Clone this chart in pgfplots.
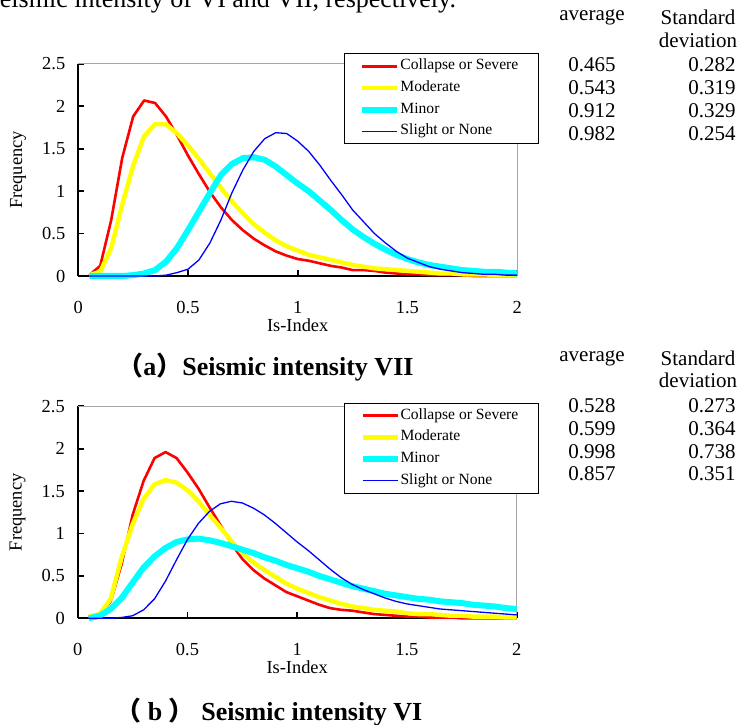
\documentclass[border=0pt]{standalone}
\usepackage{fontspec}
\setmainfont{Liberation Serif}
\newfontfamily\cjk{Noto Sans CJK SC}
\usepackage{pgfplots}
\pgfplotsset{compat=1.18}
\usepackage{pgfplotstable}

\definecolor{cRed}{RGB}{255,0,0}
\definecolor{cYel}{RGB}{255,255,0}
\definecolor{cCya}{RGB}{0,255,255}
\definecolor{cBlu}{RGB}{0,0,255}

% Seismic intensity VII
\pgfplotstableread{
x    r    y    c    b
0.05 0.01 0.01 0.00 0.00
0.10 0.12 0.05 0.00 0.00
0.15 0.66 0.33 0.00 0.00
0.20 1.39 0.84 0.00 0.00
0.25 1.88 1.30 0.01 0.00
0.30 2.07 1.65 0.03 0.00
0.35 2.04 1.79 0.07 0.00
0.40 1.88 1.79 0.17 0.01
0.45 1.66 1.68 0.33 0.04
0.50 1.42 1.54 0.54 0.08
0.55 1.20 1.38 0.76 0.19
0.60 0.99 1.21 0.98 0.39
0.65 0.81 1.04 1.19 0.66
0.70 0.66 0.88 1.32 0.98
0.75 0.54 0.74 1.39 1.25
0.80 0.44 0.61 1.40 1.47
0.85 0.36 0.51 1.37 1.62
0.90 0.29 0.42 1.29 1.69
0.95 0.24 0.35 1.19 1.68
1.00 0.20 0.30 1.09 1.59
1.05 0.18 0.25 1.00 1.47
1.10 0.15 0.22 0.89 1.31
1.15 0.12 0.19 0.78 1.13
1.20 0.10 0.16 0.66 0.96
1.25 0.07 0.13 0.55 0.78
1.30 0.07 0.11 0.46 0.64
1.35 0.06 0.09 0.38 0.50
1.40 0.04 0.08 0.31 0.39
1.45 0.03 0.07 0.25 0.29
1.50 0.02 0.06 0.20 0.21
1.55 0.02 0.05 0.16 0.16
1.60 0.01 0.04 0.13 0.11
1.65 0.01 0.03 0.11 0.08
1.70 0.01 0.03 0.09 0.06
1.75 0.01 0.02 0.07 0.04
1.80 0.00 0.02 0.06 0.03
1.85 0.00 0.02 0.05 0.02
1.90 0.00 0.01 0.05 0.02
1.95 0.00 0.01 0.04 0.01
2.00 0.00 0.01 0.03 0.01
}\tabA

% Seismic intensity VI
\pgfplotstableread{
x    r    y    c    b
0.05 0.01 0.02 0.00 0.00
0.10 0.04 0.05 0.03 0.00
0.15 0.20 0.23 0.11 0.00
0.20 0.64 0.72 0.24 0.01
0.25 1.22 1.11 0.42 0.03
0.30 1.62 1.41 0.60 0.10
0.35 1.89 1.58 0.73 0.23
0.40 1.96 1.63 0.83 0.44
0.45 1.89 1.60 0.90 0.69
0.50 1.72 1.51 0.93 0.93
0.55 1.53 1.38 0.94 1.12
0.60 1.31 1.22 0.92 1.26
0.65 1.10 1.07 0.89 1.35
0.70 0.88 0.91 0.85 1.38
0.75 0.70 0.77 0.81 1.36
0.80 0.57 0.66 0.77 1.30
0.85 0.47 0.57 0.72 1.22
0.90 0.39 0.49 0.68 1.12
0.95 0.31 0.41 0.63 1.01
1.00 0.26 0.35 0.59 0.90
1.05 0.21 0.30 0.55 0.80
1.10 0.16 0.25 0.50 0.69
1.15 0.12 0.21 0.46 0.58
1.20 0.10 0.17 0.42 0.48
1.25 0.09 0.14 0.38 0.40
1.30 0.07 0.12 0.35 0.34
1.35 0.05 0.10 0.32 0.29
1.40 0.04 0.09 0.29 0.24
1.45 0.03 0.08 0.27 0.20
1.50 0.02 0.06 0.25 0.17
1.55 0.02 0.05 0.23 0.15
1.60 0.01 0.05 0.22 0.13
1.65 0.01 0.04 0.20 0.11
1.70 0.01 0.03 0.19 0.10
1.75 0.00 0.03 0.18 0.09
1.80 0.00 0.02 0.16 0.08
1.85 0.00 0.02 0.15 0.07
1.90 0.00 0.02 0.14 0.06
1.95 0.00 0.01 0.12 0.05
2.00 0.00 0.01 0.11 0.04
}\tabB

\pgfplotsset{
  myaxis/.style={
    scale only axis, width=219.4pt, height=106pt,
    xmin=0, xmax=2, ymin=0, ymax=2.5,
    xtick={0,0.5,1,1.5,2}, ytick={0,0.5,1,1.5,2,2.5},
    axis lines*=left,
    axis line style={black, line width=1pt},
    tick align=inside, major tick length=3pt,
    every tick/.style={black, line width=0.9pt},
    tick label style={font=\fontsize{9.2}{11}\selectfont},
    /pgf/number format/assume math mode=true,
    xticklabel style={yshift=-9pt},
    yticklabel style={xshift=-3pt},
    xlabel={Is-Index}, ylabel={Frequency},
    label style={font=\fontsize{9.2}{11}\selectfont},
    xlabel style={at={(axis description cs:0.5,0)}, anchor=center, yshift=-24.5pt},
    ylabel style={at={(axis description cs:-0.137,0.5)}, anchor=center},
    clip=false,
    legend cell align=left,
    legend image code/.code={\draw[##1] (0pt,0pt) -- (17.5pt,0pt);},
    legend style={anchor=north west, draw=black, line width=0.5pt, fill=white,
      font=\fontsize{7.8}{9}\selectfont, inner xsep=7.5pt, inner ysep=2.5pt,
      row sep=3.35pt, nodes={inner sep=0pt, text height=5.5pt, text depth=2pt}},
  }
}

\begin{document}
\begin{tikzpicture}
\node[anchor=base west, inner sep=0pt, font=\fontsize{13}{15}\selectfont] at (-5.3pt,358pt) {seismic intensity of VI and VII, respectively.};

\begin{axis}[myaxis, at={(39.15pt,224pt)}, anchor=south west,
  legend style={at={(0.6055,1.0505)}}]
\draw[gray!70, line width=0.5pt] (rel axis cs:0,1) -- (rel axis cs:1,1) -- (rel axis cs:1,0);
\addplot[cRed, line width=1.3pt, line join=round] table[x=x,y=r]{\tabA};
\addplot[cYel, line width=2.2pt, line join=round] table[x=x,y=y]{\tabA};
\addplot[cCya, line width=3pt, line join=round] table[x=x,y=c]{\tabA};
\addplot[cBlu, line width=0.65pt, line join=round] table[x=x,y=b]{\tabA};
\legend{Collapse or Severe\hspace*{2.5pt}, Moderate, Minor, Slight or None}
\end{axis}

\begin{axis}[myaxis, at={(38.9pt,52.85pt)}, anchor=south west,
  legend style={at={(0.6067,1.017)}}]
\draw[gray!70, line width=0.5pt] (rel axis cs:0,1) -- (rel axis cs:1,1) -- (rel axis cs:1,0);
\addplot[cRed, line width=1.3pt, line join=round] table[x=x,y=r]{\tabB};
\addplot[cYel, line width=2.2pt, line join=round] table[x=x,y=y]{\tabB};
\addplot[cCya, line width=3pt, line join=round] table[x=x,y=c]{\tabB};
\addplot[cBlu, line width=0.65pt, line join=round] table[x=x,y=b]{\tabB};
\legend{Collapse or Severe\hspace*{2.5pt}, Moderate, Minor, Slight or None}
\end{axis}

% statistics tables
\begin{scope}[every node/.style={font=\fontsize{10.5}{12}\selectfont, inner sep=0pt, anchor=center}]
\node at (296pt,353.5pt) {average};
\node at (349pt,353.5pt) {Standard};
\node at (349pt,342pt) {deviation};
\node at (296pt,329.5pt) {0.465}; \node at (356pt,329.5pt) {0.282};
\node at (296pt,318pt) {0.543};   \node at (356pt,318pt) {0.319};
\node at (296pt,306.5pt) {0.912}; \node at (356pt,306.5pt) {0.329};
\node at (296pt,295pt) {0.982};   \node at (356pt,295pt) {0.254};

\node at (296pt,183pt) {average};
\node at (349pt,183pt) {Standard};
\node at (349pt,172pt) {deviation};
\node at (296pt,159pt) {0.528};    \node at (356pt,159pt) {0.273};
\node at (296pt,147.75pt) {0.599}; \node at (356pt,147.75pt) {0.364};
\node at (296pt,136.25pt) {0.998}; \node at (356pt,136.25pt) {0.738};
\node at (296pt,125.25pt) {0.857}; \node at (356pt,125.25pt) {0.351};
\end{scope}

% captions
\node[anchor=west, inner sep=0pt, font=\fontsize{13}{15}\selectfont\bfseries] at (58.5pt,178.5pt)
  {{\cjk （}a{\cjk ）}Seismic intensity VII};
\node[anchor=west, inner sep=0pt, font=\fontsize{13}{15}\selectfont\bfseries] at (57.5pt,6pt)
  {{\cjk （} b {\cjk ）} Seismic intensity VI};

\pgfresetboundingbox
\path[use as bounding box] (0pt,0pt) rectangle (370pt,362pt);
\end{tikzpicture}
\end{document}
